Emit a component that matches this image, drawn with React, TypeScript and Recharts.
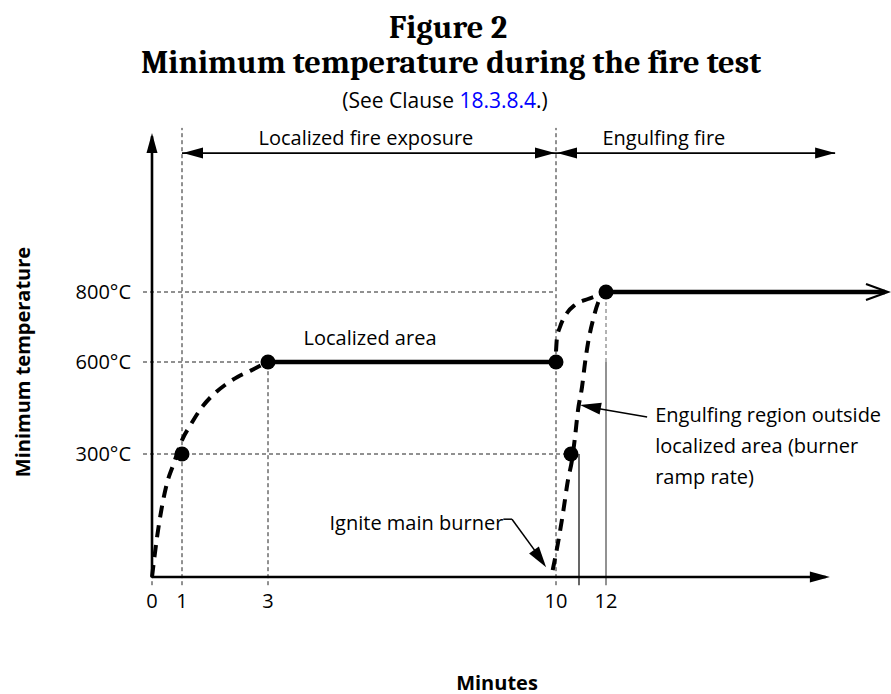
import React from "react";
import { ComposedChart, Line, XAxis, YAxis, ReferenceLine, ReferenceDot } from "recharts";

const minuteTicks = [0, 1, 3, 10, 12];
const tempTicks = [300, 600, 800];

const localizedRamp = [
  { min: 0, temp: 0 },
  { min: 0.17, temp: 98 },
  { min: 0.33, temp: 171 },
  { min: 0.5, temp: 229 },
  { min: 0.7, temp: 272 },
  { min: 0.85, temp: 305 },
  { min: 1, temp: 345 },
  { min: 1.2, temp: 395 },
  { min: 1.45, temp: 450 },
  { min: 1.7, temp: 490 },
  { min: 2, temp: 525 },
  { min: 2.3, temp: 552 },
  { min: 2.6, temp: 572 },
  { min: 2.85, temp: 590 },
  { min: 3, temp: 600 },
];
const localizedPlateau = [
  { min: 3, temp: 600 },
  { min: 10, temp: 600 },
];
const engulfingRise = [
  { min: 10, temp: 630 },
  { min: 10.04, temp: 670 },
  { min: 10.16, temp: 700 },
  { min: 10.44, temp: 740 },
  { min: 10.76, temp: 763 },
  { min: 11.28, temp: 780 },
  { min: 11.64, temp: 789 },
  { min: 12, temp: 800 },
];
const burnerRamp = [
  { min: 9.92, temp: 17 },
  { min: 10.08, temp: 83 },
  { min: 10.28, temp: 156 },
  { min: 10.48, temp: 237 },
  { min: 10.64, temp: 285 },
  { min: 10.76, temp: 355 },
  { min: 10.88, temp: 443 },
  { min: 11.04, temp: 518 },
  { min: 11.16, temp: 597 },
  { min: 11.28, temp: 654 },
  { min: 11.48, temp: 720 },
  { min: 11.68, temp: 769 },
  { min: 11.84, temp: 791 },
  { min: 12, temp: 800 },
];
const engulfingPlateau = [
  { min: 12, temp: 800 },
  { min: 20, temp: 800 },
];
const keyPoints = [
  { min: 1, temp: 300 },
  { min: 3, temp: 600 },
  { min: 10, temp: 600 },
  { min: 10.6, temp: 300 },
  { min: 12, temp: 800 },
];

// the figure is not drawn to scale: piecewise axis breaks
const minuteBreaks = [0, 1, 3, 10, 12, 20];
const minuteSpan = [0, 30, 116, 404, 454, 733];
const tempBreaks = [0, 300, 600, 800, 1300];
const tempSpan = [0, 123, 215, 285, 444];

function piecewise(v: number, from: number[], to: number[]) {
  let i = 0;
  while (i < from.length - 2 && v > from[i + 1]) i++;
  const t = (v - from[i]) / (from[i + 1] - from[i]);
  return to[i] + t * (to[i + 1] - to[i]);
}
const wx = (m: number) => piecewise(m, minuteBreaks, minuteSpan);
const wy = (t: number) => piecewise(t, tempBreaks, tempSpan);

const sans = "'Open Sans', Carlito, Lato, sans-serif";
const serif = "Caladea, Cambria, 'Liberation Serif', serif";

const Arrowhead = ({ cx, cy, angle, len = 20, half = 5.5 }: any) => (
  <polygon
    points={`0,0 ${-len},${-half} ${-len},${half}`}
    transform={`translate(${cx},${cy}) rotate(${angle})`}
    fill="#000"
  />
);

const Chevron = ({ cx, cy }: any) => (
  <polyline
    points={`${cx - 19},${cy - 8} ${cx + 3},${cy} ${cx - 19},${cy + 8}`}
    fill="none"
    stroke="#000"
    strokeWidth={2.2}
  />
);

const Note = ({ cx, cy, lines, anchor = "middle", size = 20 }: any) => (
  <text
    x={cx}
    y={cy}
    textAnchor={anchor}
    fontFamily={sans}
    fontSize={size}
    fill="#000"
    dominantBaseline="central"
  >
    {lines.map((l: string, i: number) => (
      <tspan key={i} x={cx} dy={i === 0 ? 0 : 31}>
        {l}
      </tspan>
    ))}
  </text>
);

const seg = (m1: number, t1: number, m2: number, t2: number) => [
  { x: wx(m1), y: wy(t1) },
  { x: wx(m2), y: wy(t2) },
];

const dash = { stroke: "#222", strokeWidth: 1, strokeDasharray: "4 3" };
const curve = { stroke: "#000", strokeWidth: 4, strokeDasharray: "12 8", dot: false, isAnimationActive: false, type: "monotone" as const };

export default function App() {
  const yKey = (d: any) => wy(d.temp);
  return (
    <div style={{ position: "absolute", left: 0, top: 0, width: 891, height: 694, background: "#fff" }}>
      <ComposedChart width={891} height={694} margin={{ top: 125, right: 0, bottom: 67, left: 0 }}>
        <XAxis
          type="number"
          dataKey={(d: any) => wx(d.min)}
          domain={[-12, 739]}
          ticks={minuteTicks.map(wx)}
          tickFormatter={(v: number) => String(minuteTicks.find((m) => Math.abs(wx(m) - v) < 0.5))}
          axisLine={false}
          tickLine={false}
          tickMargin={1}
          height={40}
          tick={{ fill: "#000", fontSize: 20, fontFamily: sans }}
        />
        <YAxis
          type="number"
          domain={[-10, 452]}
          ticks={tempTicks.map(wy)}
          tickFormatter={(v: number) => `${tempTicks.find((t) => Math.abs(wy(t) - v) < 0.5)}°C`}
          axisLine={false}
          tickLine={false}
          tickMargin={3}
          width={140}
          tick={{ fill: "#000", fontSize: 20, fontFamily: sans }}
        />

        {/* guide lines */}
        <ReferenceLine segment={seg(0, -20, 0, 0)} {...dash} ifOverflow="visible" />
        <ReferenceLine segment={seg(1, -20, 1, 1316)} {...dash} ifOverflow="visible" />
        <ReferenceLine segment={seg(10, -20, 10, 1316)} {...dash} ifOverflow="visible" />
        <ReferenceLine segment={seg(3, -20, 3, 600)} {...dash} ifOverflow="visible" />
        <ReferenceLine segment={seg(12, 600, 12, 800)} {...dash} stroke="#666" ifOverflow="visible" />
        <ReferenceLine segment={seg(-0.3, 800, 10, 800)} {...dash} ifOverflow="visible" />
        <ReferenceLine segment={seg(-0.3, 600, 3, 600)} {...dash} ifOverflow="visible" />
        <ReferenceLine segment={seg(-0.3, 300, 10.6, 300)} {...dash} ifOverflow="visible" />
        <ReferenceLine segment={seg(10.92, -20, 10.92, 300)} stroke="#000" strokeWidth={1.2} ifOverflow="visible" />
        <ReferenceLine segment={seg(12, -20, 12, 600)} stroke="#777" strokeWidth={1.6} ifOverflow="visible" />

        {/* axes with arrowheads */}
        <ReferenceLine segment={seg(0, 0, 18.3, 0)} stroke="#000" strokeWidth={2.6} ifOverflow="visible" />
        <ReferenceLine segment={seg(0, -2, 0, 1290)} stroke="#000" strokeWidth={2.6} ifOverflow="visible" />
        <ReferenceDot x={wx(18.42)} y={wy(0)} r={0} ifOverflow="visible" shape={(p: any) => <Arrowhead cx={p.cx} cy={p.cy} angle={0} />} />
        <ReferenceDot x={wx(0)} y={wy(1300)} r={0} ifOverflow="visible" shape={(p: any) => <Arrowhead cx={p.cx} cy={p.cy} angle={-90} />} />

        {/* phase spans */}
        <ReferenceLine segment={seg(1, 1237, 10, 1237)} stroke="#000" strokeWidth={1.8} ifOverflow="visible" />
        <ReferenceLine segment={seg(10, 1237, 18.57, 1237)} stroke="#000" strokeWidth={1.8} ifOverflow="visible" />
        <ReferenceDot x={wx(1)} y={wy(1237)} r={0} ifOverflow="visible" shape={(p: any) => <Arrowhead cx={p.cx + 1} cy={p.cy} angle={180} />} />
        <ReferenceDot x={wx(10)} y={wy(1237)} r={0} ifOverflow="visible" shape={(p: any) => <Arrowhead cx={p.cx - 1} cy={p.cy} angle={0} />} />
        <ReferenceDot x={wx(10)} y={wy(1237)} r={0} ifOverflow="visible" shape={(p: any) => <Arrowhead cx={p.cx + 1} cy={p.cy} angle={180} />} />
        <ReferenceDot x={wx(18.57)} y={wy(1237)} r={0} ifOverflow="visible" shape={(p: any) => <Arrowhead cx={p.cx} cy={p.cy} angle={0} />} />
        <ReferenceDot x={wx(5.38)} y={wy(1287)} r={0} ifOverflow="visible" shape={(p: any) => <Note cx={p.cx} cy={p.cy} lines={["Localized fire exposure"]} />} />
        <ReferenceDot x={wx(13.66)} y={wy(1287)} r={0} ifOverflow="visible" shape={(p: any) => <Note cx={p.cx} cy={p.cy} lines={["Engulfing fire"]} />} />

        {/* series */}
        <Line data={localizedRamp} dataKey={yKey} {...curve} />
        <Line data={engulfingRise} dataKey={yKey} {...curve} />
        <Line data={burnerRamp} dataKey={yKey} {...curve} />
        <Line data={localizedPlateau} dataKey={yKey} type="linear" stroke="#000" strokeWidth={4.5} dot={false} isAnimationActive={false} />
        <Line data={engulfingPlateau} dataKey={yKey} type="linear" stroke="#000" strokeWidth={4.5} dot={false} isAnimationActive={false} />
        <Line
          data={keyPoints}
          dataKey={yKey}
          type="linear"
          stroke="none"
          dot={{ r: 7.5, fill: "#000", stroke: "none" }}
          isAnimationActive={false}
        />
        <ReferenceDot x={wx(20)} y={wy(800)} r={0} ifOverflow="visible" shape={(p: any) => <Chevron cx={p.cx} cy={p.cy} />} />

        {/* annotations */}
        <ReferenceDot x={wx(5.48)} y={wy(671)} r={0} ifOverflow="visible" shape={(p: any) => <Note cx={p.cx} cy={p.cy} lines={["Localized area"]} />} />
        <ReferenceDot x={wx(8.72)} y={wy(134)} r={0} ifOverflow="visible" shape={(p: any) => <Note cx={p.cx} cy={p.cy} anchor="end" lines={["Ignite main burner"]} />} />
        <ReferenceLine segment={seg(8.72, 141, 8.93, 141)} stroke="#000" strokeWidth={1.5} ifOverflow="visible" />
        <ReferenceLine segment={seg(8.93, 141, 9.7, 35)} stroke="#000" strokeWidth={1.5} ifOverflow="visible" />
        <ReferenceDot x={wx(9.76)} y={wy(24)} r={0} ifOverflow="visible" shape={(p: any) => <Arrowhead cx={p.cx} cy={p.cy} angle={54.7} len={21} half={6} />} />
        <ReferenceDot
          x={wx(13.41)}
          y={wy(430)}
          r={0}
          ifOverflow="visible"
          shape={(p: any) => (
            <Note cx={p.cx} cy={p.cy} anchor="start" lines={["Engulfing region outside", "localized area (burner", "ramp rate)"]} />
          )}
        />
        <ReferenceLine segment={seg(13.18, 421, 11.2, 455)} stroke="#000" strokeWidth={1.5} ifOverflow="visible" />
        <ReferenceDot x={wx(10.96)} y={wy(460)} r={0} ifOverflow="visible" shape={(p: any) => <Arrowhead cx={p.cx} cy={p.cy} angle={190.2} len={21} half={6} />} />
      </ComposedChart>

      <svg width={891} height={694} style={{ position: "absolute", left: 0, top: 0, pointerEvents: "none" }}>
        <text x={448} y={27} textAnchor="middle" dominantBaseline="central" fontFamily={serif} fontWeight="bold" fontSize={32.5}>
          Figure 2
        </text>
        <text x={451} y={62} textAnchor="middle" dominantBaseline="central" fontFamily={serif} fontWeight="bold" fontSize={32.5}>
          Minimum temperature during the fire test
        </text>
        <text x={445} y={100} textAnchor="middle" dominantBaseline="central" fontFamily={sans} fontSize={21}>
          (See Clause <tspan fill="#0000ff">18.3.8.4</tspan>.)
        </text>
        <text
          x={22}
          y={362}
          textAnchor="middle"
          dominantBaseline="central"
          fontFamily={sans}
          fontWeight="bold"
          fontSize={20}
          transform="rotate(-90 22 362)"
        >
          Minimum temperature
        </text>
        <text x={497} y={682} textAnchor="middle" dominantBaseline="central" fontFamily={sans} fontWeight="bold" fontSize={20}>
          Minutes
        </text>
      </svg>
    </div>
  );
}
